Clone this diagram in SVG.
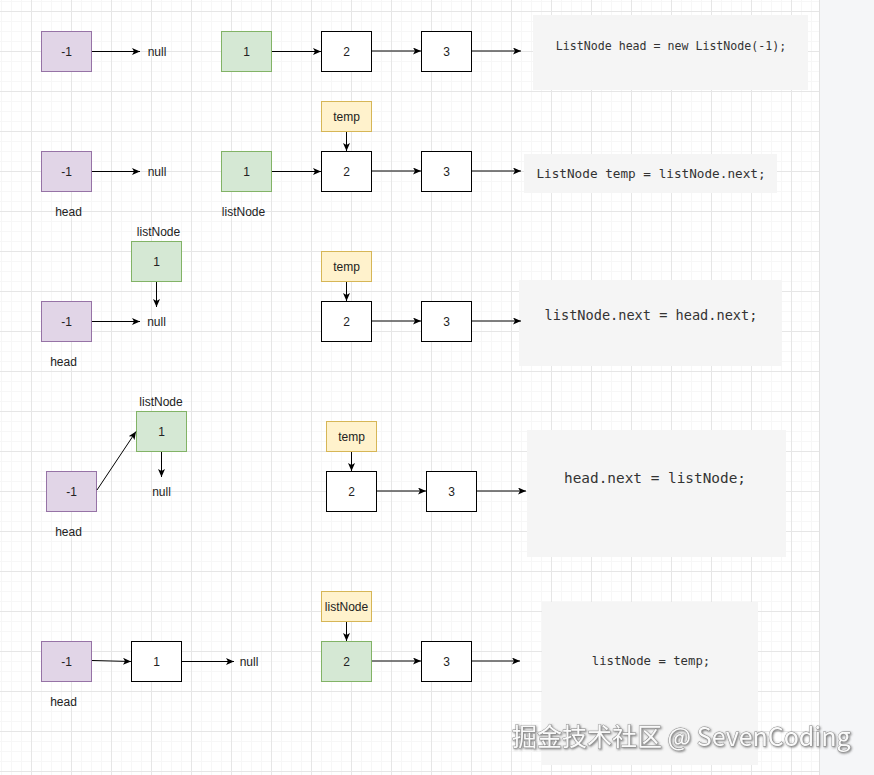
<svg xmlns="http://www.w3.org/2000/svg" width="874" height="775" viewBox="0 0 874 775">
<defs>
<pattern id="grid" x="31" y="11" width="40" height="40" patternUnits="userSpaceOnUse">
<path d="M10.5,0 V40 M20.5,0 V40 M30.5,0 V40 M0,10.5 H40 M0,20.5 H40 M0,30.5 H40" stroke="#f7f7f7" stroke-width="1" fill="none"/>
<path d="M0.5,0 V40 M0,0.5 H40" stroke="#e6e6e6" stroke-width="1" fill="none"/>
</pattern>
<marker id="ah" viewBox="0 0 8 7" refX="8" refY="3.5" markerWidth="8" markerHeight="7" markerUnits="userSpaceOnUse" orient="auto">
<path d="M0,0 L8,3.5 L0,7 L2,3.5 z" fill="#000"/>
</marker>
<filter id="sh" x="-5%" y="-20%" width="110%" height="140%">
<feDropShadow dx="1" dy="1" stdDeviation="0.8" flood-color="#444" flood-opacity="0.7"/>
</filter>
</defs>
<style>
.bg{fill:#fff}
.side{fill:#f5f6f8}
.p{fill:#e1d5e7;stroke:#9673a6;stroke-width:1}
.g{fill:#d5e8d4;stroke:#82b366;stroke-width:1}
.y{fill:#fff2cc;stroke:#d6b656;stroke-width:1}
.w{fill:#fff;stroke:#000;stroke-width:1}
.code{fill:#f5f5f5;stroke:none}
.t{font-family:"Liberation Sans",Arial,sans-serif;font-size:12px;fill:#222;text-anchor:middle}
.m{font-family:"DejaVu Sans Mono","Liberation Mono",monospace;fill:#333;text-anchor:middle}
.c1{stroke:#000;stroke-width:1;fill:none;marker-end:url(#ah)}
.c2{stroke:#555;stroke-width:1.6;fill:none;marker-end:url(#ah)}
.wm{font-family:"Noto Sans CJK SC","Noto Sans",sans-serif;font-size:25px;fill:#fafafa;stroke:#8a8a8a;stroke-width:0.9;paint-order:stroke fill;filter:url(#sh)}
</style>
<rect class="bg" x="0" y="0" width="874" height="775"/>
<rect x="0" y="0" width="819" height="775" fill="url(#grid)"/>
<rect class="side" x="819" y="0" width="55" height="775"/>
<line x1="819.5" y1="0" x2="819.5" y2="775" stroke="#e2e2e2"/>

<!-- Row 1 -->
<g id="r1_head"><rect class="p" x="41.5" y="31.5" width="50" height="40"/><text class="t" x="66.5" y="55.5">-1</text></g>
<g id="r1_null"><text class="t" x="157" y="55.5">null</text></g>
<g id="r1_n1"><rect class="g" x="221.5" y="31.5" width="50" height="40"/><text class="t" x="246.5" y="55.5">1</text></g>
<g id="r1_n2"><rect class="w" x="321.5" y="31.5" width="50" height="40"/><text class="t" x="346.5" y="55.5">2</text></g>
<g id="r1_n3"><rect class="w" x="421.5" y="31.5" width="50" height="40"/><text class="t" x="446.5" y="55.5">3</text></g>
<g id="r1_code"><rect class="code" x="533" y="15" width="275" height="75"/><text class="m" x="671" y="50" font-size="11.6">ListNode head = new ListNode(-1);</text></g>

<!-- Row 2 -->
<g id="r2_head"><rect class="p" x="41.5" y="151.5" width="50" height="40"/><text class="t" x="66.5" y="175.5">-1</text><text class="t" x="68.5" y="215.5">head</text></g>
<g id="r2_null"><text class="t" x="157" y="175.5">null</text></g>
<g id="r2_n1"><rect class="g" x="221.5" y="151.5" width="50" height="40"/><text class="t" x="246.5" y="175.5">1</text><text class="t" x="243.5" y="215.5">listNode</text></g>
<g id="r2_temp"><rect class="y" x="321.5" y="101.5" width="50" height="30"/><text class="t" x="346.5" y="120.5">temp</text></g>
<g id="r2_n2"><rect class="w" x="321.5" y="151.5" width="50" height="40"/><text class="t" x="346.5" y="175.5">2</text></g>
<g id="r2_n3"><rect class="w" x="421.5" y="151.5" width="50" height="40"/><text class="t" x="446.5" y="175.5">3</text></g>
<g id="r2_code"><rect class="code" x="524" y="154" width="253" height="39"/><text class="m" x="651" y="177.5" font-size="12.7">ListNode temp = listNode.next;</text></g>

<!-- Row 3 -->
<g id="r3_n1"><text class="t" x="158.5" y="235.5">listNode</text><rect class="g" x="131.5" y="241.5" width="50" height="40"/><text class="t" x="156.5" y="265.5">1</text></g>
<g id="r3_null"><text class="t" x="156.5" y="325.5">null</text></g>
<g id="r3_head"><rect class="p" x="41.5" y="301.5" width="50" height="40"/><text class="t" x="66.5" y="325.5">-1</text><text class="t" x="63.5" y="365.5">head</text></g>
<g id="r3_temp"><rect class="y" x="321.5" y="251.5" width="50" height="30"/><text class="t" x="346.5" y="270.5">temp</text></g>
<g id="r3_n2"><rect class="w" x="321.5" y="301.5" width="50" height="40"/><text class="t" x="346.5" y="325.5">2</text></g>
<g id="r3_n3"><rect class="w" x="421.5" y="301.5" width="50" height="40"/><text class="t" x="446.5" y="325.5">3</text></g>
<g id="r3_code"><rect class="code" x="519" y="280" width="263" height="86"/><text class="m" x="651" y="320" font-size="13.6">listNode.next = head.next;</text></g>

<!-- Row 4 -->
<g id="r4_n1"><text class="t" x="161" y="405.5">listNode</text><rect class="g" x="136.5" y="411.5" width="50" height="40"/><text class="t" x="161.5" y="435.5">1</text></g>
<g id="r4_null"><text class="t" x="161.5" y="495.5">null</text></g>
<g id="r4_head"><rect class="p" x="46.5" y="471.5" width="50" height="40"/><text class="t" x="71.5" y="495.5">-1</text><text class="t" x="68.5" y="535.5">head</text></g>
<g id="r4_temp"><rect class="y" x="326.5" y="421.5" width="50" height="30"/><text class="t" x="351.5" y="440.5">temp</text></g>
<g id="r4_n2"><rect class="w" x="326.5" y="471.5" width="50" height="40"/><text class="t" x="351.5" y="495.5">2</text></g>
<g id="r4_n3"><rect class="w" x="426.5" y="471.5" width="50" height="40"/><text class="t" x="451.5" y="495.5">3</text></g>
<g id="r4_code"><rect class="code" x="527" y="430" width="259" height="127"/><text class="m" x="655" y="483" font-size="14.4">head.next = listNode;</text></g>

<!-- Row 5 -->
<g id="r5_head"><rect class="p" x="41.5" y="641.5" width="50" height="40"/><text class="t" x="66.5" y="665.5">-1</text><text class="t" x="63.5" y="705.5">head</text></g>
<g id="r5_n1"><rect class="w" x="131.5" y="641.5" width="50" height="40"/><text class="t" x="156.5" y="665.5">1</text></g>
<g id="r5_null"><text class="t" x="249" y="665.5">null</text></g>
<g id="r5_listNode"><rect class="y" x="321.5" y="591.5" width="50" height="30"/><text class="t" x="346.5" y="610.5">listNode</text></g>
<g id="r5_n2"><rect class="g" x="321.5" y="641.5" width="50" height="40"/><text class="t" x="346.5" y="665.5">2</text></g>
<g id="r5_n3"><rect class="w" x="421.5" y="641.5" width="50" height="40"/><text class="t" x="446.5" y="665.5">3</text></g>
<g id="r5_code"><rect class="code" x="542" y="602" width="216" height="163"/><text class="m" x="651" y="664.5" font-size="12.3">listNode = temp;</text></g>

<g id="connectors">
<path class="c1" d="M92,51.5 H140"/>
<path class="c1" d="M272,51.5 H321"/>
<path class="c2" d="M372,51 H421"/>
<path class="c2" d="M472,51 H521"/>

<path class="c1" d="M92,171.5 H140"/>
<path class="c1" d="M272,171.5 H321"/>
<path class="c1" d="M346.5,132 V151"/>
<path class="c2" d="M372,171 H421"/>
<path class="c2" d="M472,171 H521"/>

<path class="c1" d="M156.5,282 V307"/>
<path class="c1" d="M92,321.5 H140"/>
<path class="c1" d="M346.5,282 V301"/>
<path class="c2" d="M372,321 H421"/>
<path class="c2" d="M472,321 H521"/>

<path class="c1" d="M97,490 L136,431.5"/>
<path class="c1" d="M161.5,452 V477"/>
<path class="c1" d="M351.5,452 V471"/>
<path class="c2" d="M377,491 H426"/>
<path class="c2" d="M477,491 H526"/>

<path class="c1" d="M92,660.5 L131,661.5"/>
<path class="c1" d="M182,661.5 H234"/>
<path class="c1" d="M346.5,622 V641"/>
<path class="c2" d="M372,661 H421"/>
<path class="c2" d="M472,661 H520"/>
</g>

<text class="wm" x="512" y="746">掘金技术社区 @ SevenCoding</text>
</svg>
